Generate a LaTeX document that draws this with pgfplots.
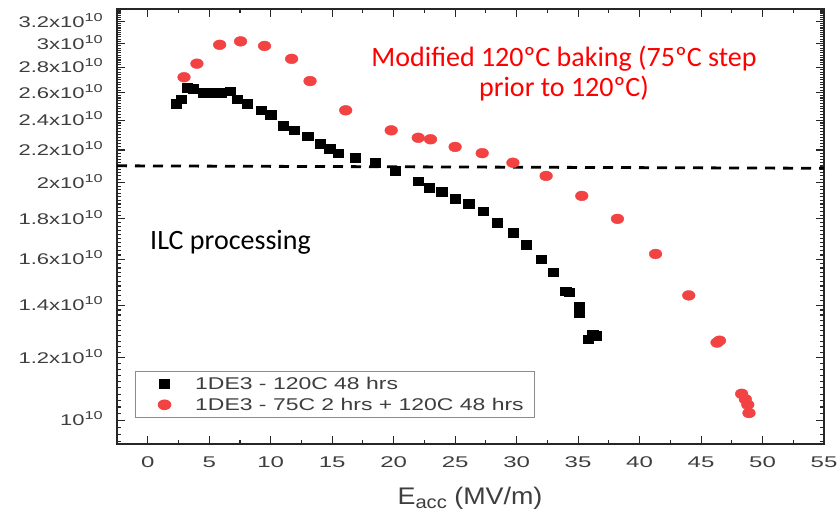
\documentclass[border=0pt]{standalone}
\usepackage{pgfplots}
\pgfplotsset{compat=1.18}
\usepackage{fontspec}
\setmainfont{Liberation Sans}
\newfontfamily\calib{Carlito}
\newfontfamily\ytf[FakeStretch=1.42]{Liberation Sans}
\newfontfamily\xtf[FakeStretch=1.55]{Liberation Sans}
\newfontfamily\legf[FakeStretch=1.35]{Liberation Sans}
\newfontfamily\labf[FakeStretch=1.12]{Liberation Sans}
\definecolor{redm}{RGB}{242,66,66}
\definecolor{txtg}{RGB}{62,62,62}
\newcommand{\sci}[1]{#1x10\raisebox{6pt}{\fontsize{11.5}{11.5}\selectfont 10}}
\begin{document}
\begin{tikzpicture}[x=1pt,y=1pt]
\begin{axis}[
  scale only axis, width=707pt, height=435pt,
  xmin=-2.5, xmax=55, ymode=log, ymin=0.934e10, ymax=3.32e10,
  xtick={0,5,10,15,20,25,30,35,40,45,50,55}, minor x tick num=1,
  ytick={1e10,1.2e10,1.4e10,1.6e10,1.8e10,2e10,2.2e10,2.4e10,2.6e10,2.8e10,3e10,3.2e10},
  yticklabels={{10\raisebox{6pt}{\fontsize{11.5}{11.5}\selectfont 10}},{\sci{1.2}},{\sci{1.4}},{\sci{1.6}},{\sci{1.8}},{\sci{2}},{\sci{2.2}},{\sci{2.4}},{\sci{2.6}},{\sci{2.8}},{\sci{3}},{\sci{3.2}}},
  minor ytick={0.94e10,0.96e10,0.98e10,1.00e10,1.02e10,1.04e10,1.06e10,1.08e10,1.10e10,1.12e10,1.14e10,1.16e10,1.18e10,1.20e10,1.22e10,1.24e10,1.26e10,1.28e10,1.30e10,1.32e10,1.34e10,1.36e10,1.38e10,1.40e10,1.42e10,1.44e10,1.46e10,1.48e10,1.50e10,1.52e10,1.54e10,1.56e10,1.58e10,1.60e10,1.62e10,1.64e10,1.66e10,1.68e10,1.70e10,1.72e10,1.74e10,1.76e10,1.78e10,1.80e10,1.82e10,1.84e10,1.86e10,1.88e10,1.90e10,1.92e10,1.94e10,1.96e10,1.98e10,2.00e10,2.02e10,2.04e10,2.06e10,2.08e10,2.10e10,2.12e10,2.14e10,2.16e10,2.18e10,2.20e10,2.22e10,2.24e10,2.26e10,2.28e10,2.30e10,2.32e10,2.34e10,2.36e10,2.38e10,2.40e10,2.42e10,2.44e10,2.46e10,2.48e10,2.50e10,2.52e10,2.54e10,2.56e10,2.58e10,2.60e10,2.62e10,2.64e10,2.66e10,2.68e10,2.70e10,2.72e10,2.74e10,2.76e10,2.78e10,2.80e10,2.82e10,2.84e10,2.86e10,2.88e10,2.90e10,2.92e10,2.94e10,2.96e10,2.98e10,3.00e10,3.02e10,3.04e10,3.06e10,3.08e10,3.10e10,3.12e10,3.14e10,3.16e10,3.18e10,3.20e10,3.22e10,3.24e10,3.26e10,3.28e10,3.30e10,3.32e10},
  axis line style={line width=1.6pt, black!85},
  tick style={line width=1.1pt, black!85},
  major tick length=8pt, minor tick length=4pt,
  tick align=inside,
  /pgf/number format/assume math mode=true,
  xticklabel style={font=\xtf\fontsize{15.5}{16}\selectfont, text=txtg, anchor=base, inner sep=0pt, yshift=-24pt},
  yticklabel style={font=\ytf\fontsize{15.5}{16}\selectfont, text=txtg, anchor=base east, inner sep=0pt, xshift=-14pt, yshift=-5.5pt},
  legend style={at={(0.0255,0.1678)}, anchor=north west, draw=black!45, line width=0.8pt, fill=white,
    inner xsep=9pt, inner ysep=4.3pt, row sep=4.7pt, column sep=0pt,
    nodes={inner sep=2pt, text depth=0pt},
    font=\legf\fontsize{17}{18}\selectfont, text=txtg, cells={anchor=west}},
  legend image code/.code={\path (0pt,0pt) (48pt,0pt); \draw[#1] plot coordinates {(19.7pt,0pt)};},
]
\addplot[only marks, mark=square*, color=black, mark size=4.3pt, mark options={xscale=1.2}] coordinates {
(2.3,2.52e10) (2.7,2.55e10) (3.2,2.64e10) (3.7,2.63e10) (4.5,2.60e10) (5.3,2.60e10) (6.0,2.60e10) (6.7,2.61e10) (7.3,2.55e10) (8.1,2.52e10) (9.2,2.47e10) (10.0,2.44e10) (11.0,2.36e10) (11.9,2.33e10) (13.0,2.29e10) (14.0,2.24e10) (14.8,2.21e10) (15.5,2.18e10) (16.9,2.15e10) (18.5,2.12e10) (20.1,2.07e10) (22.0,2.01e10) (22.9,1.97e10) (23.9,1.95e10) (25.0,1.91e10) (26.1,1.88e10) (27.3,1.84e10) (28.4,1.78e10) (29.7,1.73e10) (30.8,1.67e10) (32.0,1.60e10) (33.0,1.54e10) (34.0,1.457e10) (34.3,1.453e10) (35.1,1.394e10) (35.1,1.368e10) (35.8,1.268e10) (36.2,1.284e10) (36.5,1.28e10)
};
\addlegendentry{1DE3 - 120C 48 hrs}
\addplot[only marks, mark=*, color=redm, mark size=4.9pt, mark options={xscale=1.3}] coordinates {
(2.95,2.72e10) (4.0,2.83e10) (5.85,2.99e10) (7.55,3.02e10) (9.5,2.98e10) (11.7,2.87e10) (13.2,2.69e10) (16.1,2.47e10) (19.8,2.33e10) (22.0,2.28e10) (23.0,2.27e10) (25.0,2.22e10) (27.2,2.18e10) (29.7,2.12e10) (32.4,2.04e10) (35.3,1.925e10) (38.2,1.80e10) (41.3,1.625e10) (44.0,1.44e10) (46.3,1.255e10) (46.5,1.262e10) (48.3,1.081e10) (48.6,1.064e10) (48.8,1.047e10) (48.9,1.022e10)
};
\addlegendentry{1DE3 - 75C 2 hrs + 120C 48 hrs}
\addplot[black, line width=2.8pt, dash pattern=on 10pt off 8pt, forget plot] coordinates {(-2.5,2.101e10) (55,2.086e10)};
\end{axis}
\node[text=red, font=\calib\fontsize{28}{30}\selectfont, anchor=base] at (447,377) {Modified 120ºC baking (75ºC step};
\node[text=red, font=\calib\fontsize{28}{30}\selectfont, anchor=base] at (447,347) {prior to 120ºC)};
\node[text=black, font=\calib\fontsize{28}{30}\selectfont, anchor=base west, inner sep=0pt] at (33,194) {ILC processing};
\node[text=txtg, font=\labf\fontsize{24}{26}\selectfont, anchor=base] at (353,-60) {E\raisebox{-4pt}{\fontsize{18}{18}\selectfont acc} (MV/m)};
\path (-117,-68) rectangle (721,444);
\end{tikzpicture}
\end{document}
